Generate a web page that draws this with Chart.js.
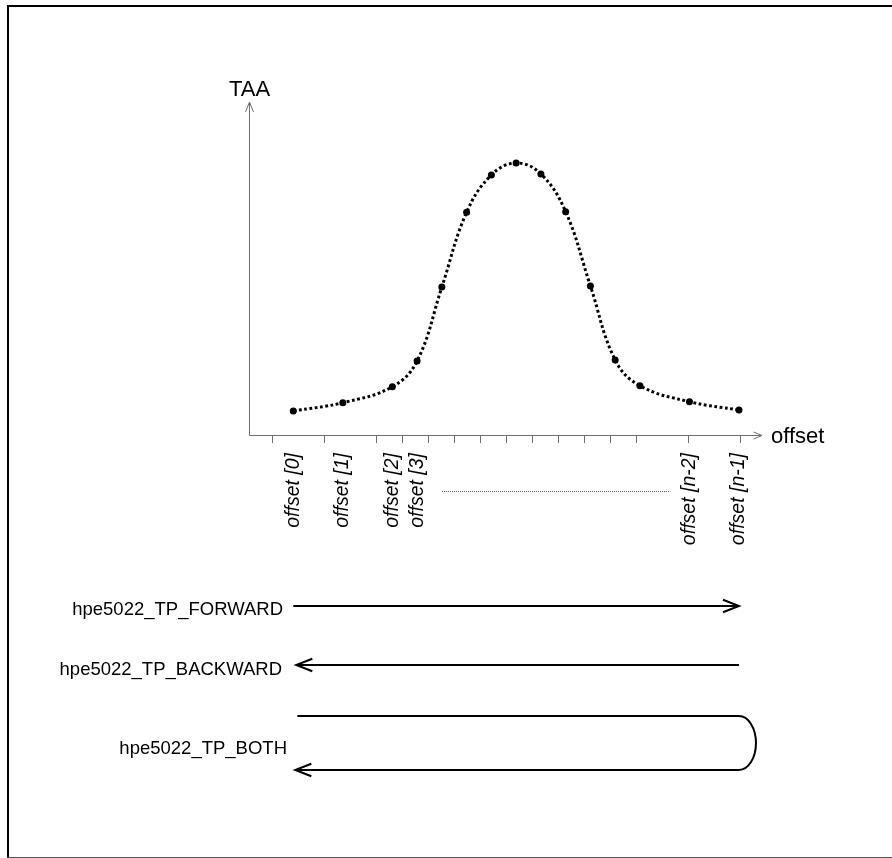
<!DOCTYPE html>
<html>
<head>
<meta charset="utf-8">
<script src="https://cdn.jsdelivr.net/npm/chart.js@4/dist/chart.umd.min.js"></script>
<style>
  html, body { margin: 0; padding: 0; background: #ffffff; }
  #wrap { position: absolute; left: 0; top: 0; width: 892px; height: 858px; }
</style>
</head>
<body>
<div id="wrap"><canvas id="c" width="892" height="858"></canvas></div>
<script>
// ---- data ----
const xPositions = [0, 2, 4, 5, 6, 7, 8, 9, 10, 11, 12, 13, 14, 16, 18];
const taaValues = [25, 33.3, 49.3, 75, 149, 223.7, 261, 273, 262, 224.3, 150, 76, 50.3, 34.3, 26];
const labelPositions = [0, 2, 4, 5, 16, 18];
const tickLabels = ['offset [0]', 'offset [1]', 'offset [2]', 'offset [3]', 'offset [n-2]', 'offset [n-1]'];
const tickMarkPositions = [0, 2, 4, 5, 6, 7, 8, 9, 10, 11, 12, 13, 14, 16, 18];
const modeNames = ['hpe5022_TP_FORWARD', 'hpe5022_TP_BACKWARD', 'hpe5022_TP_BOTH'];
const yTitle = 'TAA';
const xTitle = 'offset';

const FONT = '"Liberation Sans", Arial, sans-serif';
const AXIS = '#6f6f6f';

function arrowHead(ctx, tipX, tipY, dir, len, half) {
  ctx.beginPath();
  if (dir === 'right') {
    ctx.moveTo(tipX - len, tipY - half); ctx.lineTo(tipX, tipY); ctx.lineTo(tipX - len, tipY + half);
  } else if (dir === 'left') {
    ctx.moveTo(tipX + len, tipY - half); ctx.lineTo(tipX, tipY); ctx.lineTo(tipX + len, tipY + half);
  } else {
    ctx.moveTo(tipX - half, tipY + len); ctx.lineTo(tipX, tipY); ctx.lineTo(tipX + half, tipY + len);
  }
  ctx.stroke();
}

const decor = {
  id: 'decor',
  afterDraw(chart) {
    const ctx = chart.ctx;
    const ca = chart.chartArea;
    const xs = chart.scales.x;
    const xt = chart.scales.xt;
    ctx.save();

    // frame
    ctx.fillStyle = '#000';
    ctx.fillRect(7, 5, 885, 2);
    ctx.fillRect(7, 5, 2, 853);
    ctx.fillStyle = '#555';
    ctx.fillRect(7, 857, 885, 1);

    // axes
    ctx.strokeStyle = AXIS;
    ctx.lineWidth = 1;
    ctx.beginPath();
    ctx.moveTo(ca.left + 0.5, ca.bottom - 0.5);
    ctx.lineTo(ca.left + 0.5, ca.top);
    ctx.moveTo(ca.left + 0.5, ca.bottom - 0.5);
    ctx.lineTo(ca.right, ca.bottom - 0.5);
    ctx.stroke();
    arrowHead(ctx, ca.left + 0.5, ca.top, 'up', 10, 4);
    arrowHead(ctx, ca.right, ca.bottom - 0.5, 'right', 8.5, 3.5);

    // tick marks
    ctx.beginPath();
    tickMarkPositions.forEach(v => {
      const px = Math.round(xt.getPixelForValue(v)) + 0.5;
      ctx.moveTo(px, ca.bottom - 0.5);
      ctx.lineTo(px, ca.bottom + 7);
    });
    ctx.stroke();

    // axis titles
    ctx.fillStyle = '#000';
    ctx.font = '22px ' + FONT;
    ctx.textAlign = 'left';
    ctx.textBaseline = 'alphabetic';
    ctx.fillText(yTitle, 229, 96);
    ctx.fillText(xTitle, 771, 443);

    // dotted separator between [3] and [n-2]
    const p3 = xs.getPixelForValue(labelPositions[3]);
    const pn2 = xs.getPixelForValue(labelPositions[4]);
    ctx.strokeStyle = '#555';
    ctx.lineWidth = 1;
    ctx.setLineDash([1, 1]);
    ctx.beginPath();
    ctx.moveTo(p3 + 25, 491.5);
    ctx.lineTo(pn2 - 19, 491.5);
    ctx.stroke();
    ctx.setLineDash([]);

    // traversal direction arrows
    const x0 = xs.getPixelForValue(labelPositions[0]);
    const x1 = xs.getPixelForValue(labelPositions[labelPositions.length - 1]);
    ctx.strokeStyle = '#000';
    ctx.lineWidth = 2;
    ctx.lineJoin = 'miter';
    ctx.beginPath(); ctx.moveTo(x0, 606); ctx.lineTo(x1, 606); ctx.stroke();
    arrowHead(ctx, x1, 606, 'right', 16, 6.3);
    ctx.beginPath(); ctx.moveTo(x1, 665); ctx.lineTo(x0 + 3, 665); ctx.stroke();
    arrowHead(ctx, x0 + 3, 665, 'left', 16, 6.3);
    ctx.beginPath();
    ctx.moveTo(x0 + 4, 716);
    ctx.lineTo(x1, 716);
    ctx.ellipse(x1, 743, 17, 27, 0, -Math.PI / 2, Math.PI / 2, false);
    ctx.lineTo(x0 + 2, 770);
    ctx.stroke();
    arrowHead(ctx, x0 + 2, 770, 'left', 16, 6.3);

    // mode names
    ctx.fillStyle = '#000';
    ctx.font = '18.5px ' + FONT;
    ctx.textAlign = 'right';
    ctx.textBaseline = 'alphabetic';
    ctx.fillText(modeNames[0], 283, 615);
    ctx.fillText(modeNames[1], 282, 675);
    ctx.fillText(modeNames[2], 287, 754);

    ctx.restore();
  }
};

new Chart(document.getElementById('c'), {
  type: 'line',
  data: {
    datasets: [{
      data: xPositions.map((x, i) => ({ x: x, y: taaValues[i] })),
      borderColor: '#000',
      borderWidth: 3,
      borderDash: [2.8, 2.6],
      borderCapStyle: 'butt',
      tension: 0.4,
      pointRadius: 3.5,
      pointBackgroundColor: '#000',
      pointBorderWidth: 0,
      fill: false
    }]
  },
  options: {
    responsive: false,
    animation: false,
    events: [],
    layout: { padding: { left: 249, right: 130, top: 102, bottom: 302 } },
    plugins: { legend: { display: false }, tooltip: { enabled: false } },
    scales: {
      x: {
        type: 'linear',
        position: 'bottom',
        min: -1.789,
        max: 18.93,
        grid: { display: false, drawTicks: false },
        border: { display: false },
        afterBuildTicks: (s) => { s.ticks = labelPositions.map(v => ({ value: v })); },
        afterFit: (s) => { s.height = 120; },
        ticks: {
          autoSkip: false,
          maxRotation: 90,
          minRotation: 90,
          padding: 17,
          color: '#000',
          font: { family: FONT, size: 19.5, style: 'italic' },
          callback: (v) => {
            const i = labelPositions.indexOf(v);
            return i >= 0 ? tickLabels[i] : '';
          }
        }
      },
      xt: {
        type: 'linear',
        position: 'bottom',
        display: false,
        min: -0.872,
        max: 18.844
      },
      y: {
        type: 'linear',
        display: false,
        min: 0,
        max: 334
      }
    }
  },
  plugins: [decor]
});
</script>
</body>
</html>
